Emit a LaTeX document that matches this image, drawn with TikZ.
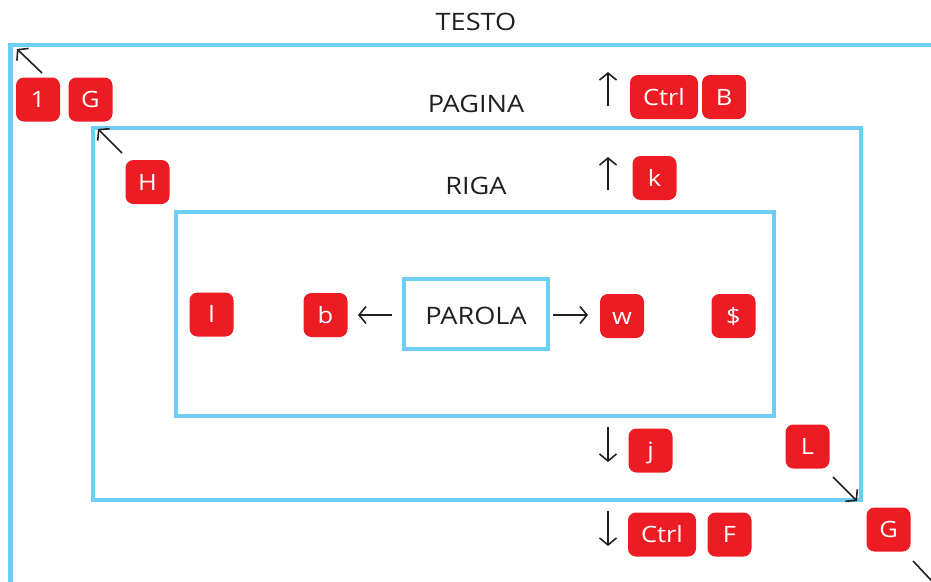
\documentclass[tikz,border=0pt]{standalone}
\usepackage{fontspec}
\setmainfont[FakeStretch=1.13]{Open Sans}
\usetikzlibrary{arrows.meta}
\definecolor{keyred}{HTML}{ED1C24}
\definecolor{frameblue}{HTML}{6DCFF6}
\definecolor{ink}{HTML}{231F20}
\tikzset{
  keybox/.style={fill=keyred, draw=none, rounded corners=8pt, minimum width=44pt,
    minimum height=44pt, inner sep=0pt, text=white, text height=16pt, text depth=0pt,
    font=\fontsize{22.5}{22.5}\selectfont},
  widekey/.style={keybox, minimum width=68pt},
  frame/.style={draw=frameblue, line width=4.8pt},
  lbl/.style={inner sep=0pt, text=ink, font=\fontsize{24}{24}\selectfont},
  arr/.style={draw=ink, line width=1.6pt, -{Straight Barb[length=7pt,width=17pt,line width=1.6pt]}}
}
\begin{document}
\begin{tikzpicture}[x=1pt,y=-1pt]
\useasboundingbox (0,0) rectangle (931,581);
\clip (0,0) rectangle (931,581);
% frames
\draw[frame] (10.5,45) rectangle (1000,700);
\draw[frame] (93,128) rectangle (861,500);
\draw[frame] (176,212) rectangle (774,416);
\node[draw=frameblue, line width=4.5pt, minimum width=144pt, minimum height=70pt, inner sep=0pt] (parola) at (476,314) {};
% labels
\node[lbl] (testo) at (476,21.7) {TESTO};
\node[lbl] (pagina) at (476,104) {PAGINA};
\node[lbl] (riga) at (476,186) {RIGA};
\node[lbl] (parolat) at (476,315.5) {PAROLA};
% keys
\node[keybox] (k1) at (38,99.5) {1};
\node[keybox] (kG1) at (90.5,99.5) {G};
\node[keybox] (kH) at (147.5,182) {H};
\node[widekey] (kCtrlB) at (664,97) {Ctrl};
\node[keybox] (kB) at (724,97) {B};
\node[keybox] (kk) at (654.5,178) {k};
\node[keybox] (kl) at (211.5,314.5) {l};
\node[keybox] (kb) at (325.5,315) {b};
\node[keybox] (kw) at (622,316) {w};
\node[keybox] (kdollar) at (733.5,316) {\$};
\node[keybox] (kj) at (650.5,450.5) {j};
\node[widekey] (kCtrlF) at (662,534.5) {Ctrl};
\node[keybox] (kF) at (729.5,534.5) {F};
\node[keybox] (kL) at (807.5,446.5) {L};
\node[keybox] (kG2) at (888.5,529.5) {G};
% arrow end points
\coordinate (a1s) at (42,73);   \coordinate (a1e) at (17,49);
\coordinate (a2s) at (122,153); \coordinate (a2e) at (98,129);
\coordinate (a3s) at (833,477); \coordinate (a3e) at (857,501);
\coordinate (a4s) at (913,561); \coordinate (a4e) at (945,595);
\coordinate (u1s) at (608,106); \coordinate (u1e) at (608,72);
\coordinate (u2s) at (608,190); \coordinate (u2e) at (608,157);
\coordinate (d1s) at (608,427); \coordinate (d1e) at (608,462);
\coordinate (d2s) at (608,511); \coordinate (d2e) at (608,546);
\coordinate (ls) at (392,315);  \coordinate (le) at (358,315);
\coordinate (rs) at (553,315);  \coordinate (re) at (588,315);
% arrows
\draw[arr] (a1s) -- (a1e);
\draw[arr] (a2s) -- (a2e);
\draw[arr] (a3s) -- (a3e);
\draw[draw=ink, line width=1.6pt] (a4s) -- (a4e);
\draw[arr] (u1s) -- (u1e);
\draw[arr] (u2s) -- (u2e);
\draw[arr] (d1s) -- (d1e);
\draw[arr] (d2s) -- (d2e);
\draw[arr] (ls) -- (le);
\draw[arr] (rs) -- (re);
\end{tikzpicture}
\end{document}
